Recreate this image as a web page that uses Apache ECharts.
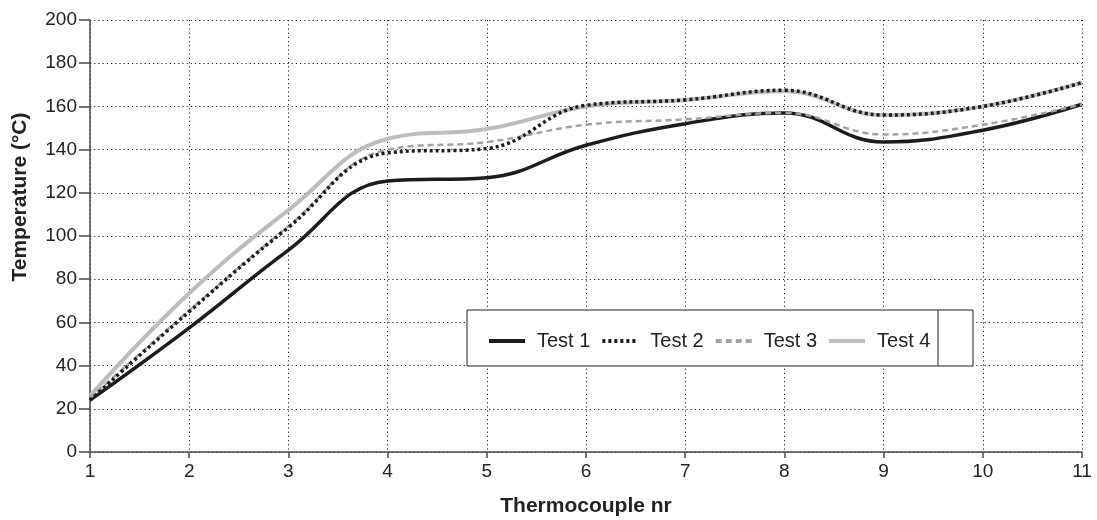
<!DOCTYPE html>
<html>
<head>
<meta charset="utf-8">
<script src="https://cdn.jsdelivr.net/npm/echarts@6/dist/echarts.min.js"></script>
<style>html,body{margin:0;padding:0;background:#fff}#c{width:1097px;height:520px}</style>
</head>
<body>
<div id="c"></div>
<script>
const thermocouples = [1, 2, 3, 4, 5, 6, 7, 8, 9, 10, 11];
const test1 = [24, 57.5, 93.5, 125.5, 127, 142, 152, 157, 143.5, 149, 161];
const test2 = [24, 65, 104, 138.5, 140.5, 160.5, 163, 167.5, 156, 160, 171];
const test3 = [25, 65.5, 104.5, 140, 143.5, 151.5, 154, 157, 147, 151.5, 161];
const test4 = [26, 73.5, 112, 145, 149.5, 160, 163, 167, 156, 160, 171];
const seriesNames = ['Test 1', 'Test 2', 'Test 3', 'Test 4'];
const yTicks = [0, 20, 40, 60, 80, 100, 120, 140, 160, 180, 200];

const pairs = arr => thermocouples.map((x, i) => [x, arr[i]]);
const FONT = '"Liberation Sans", Arial, sans-serif';
const SMOOTH = 0.42;

const chart = echarts.init(document.getElementById('c'), null, {renderer: 'canvas'});
const gridLine = {show: true, lineStyle: {color: '#222', width: 1, type: [1.2, 3]}};
const axisLine = {show: true, lineStyle: {color: '#4a4a4a', width: 1.5}};

chart.setOption({
  animation: false,
  backgroundColor: '#fff',
  grid: {left: 90, right: 15, top: 20, bottom: 68, containLabel: false, outerBoundsMode: 'none'},
  xAxis: {
    type: 'value', min: 1, max: 11, interval: 1,
    name: 'Thermocouple nr', nameLocation: 'middle', nameGap: 44,
    nameTextStyle: {fontFamily: FONT, fontSize: 21, fontWeight: 'bold', color: '#222'},
    axisLine: axisLine,
    axisTick: {show: true, length: 6, lineStyle: {color: '#4a4a4a', width: 1.5}},
    axisLabel: {fontFamily: FONT, fontSize: 19, color: '#222', margin: 10},
    splitLine: gridLine
  },
  yAxis: {
    type: 'value', min: yTicks[0], max: yTicks[yTicks.length - 1], interval: 20,
    name: 'Temperature (°C)', nameLocation: 'middle', nameGap: 59,
    nameTextStyle: {fontFamily: FONT, fontSize: 21, fontWeight: 'bold', color: '#222', padding: [0, 0, 0, 78]},
    axisLine: axisLine,
    axisTick: {show: true, length: 11, lineStyle: {color: '#4a4a4a', width: 1.5}},
    axisLabel: {fontFamily: FONT, fontSize: 19, color: '#222', margin: 13},
    splitLine: gridLine
  },
  graphic: [
    {type: 'rect', shape: {x: 467, y: 310, width: 506, height: 56}, style: {fill: '#fff', stroke: '#222', lineWidth: 1}, z: 90},
    {type: 'line', shape: {x1: 938, y1: 310, x2: 938, y2: 366}, style: {stroke: '#222', lineWidth: 1}, z: 91}
  ],
  legend: {
    data: seriesNames,
    left: 487, top: 331, padding: 0, z: 100,
    itemWidth: 36, itemHeight: 14, itemGap: 10,
    itemStyle: {opacity: 0},
    lineStyle: {width: 4},
    textStyle: {fontFamily: FONT, fontSize: 20, color: '#222', padding: [0, 0, 0, 7]}
  },
  series: [
    {name: seriesNames[3], type: 'line', data: pairs(test4), smooth: SMOOTH, symbol: 'none',
     lineStyle: {color: '#bdbdbd', width: 4}, itemStyle: {color: '#bdbdbd'}, z: 2},
    {name: seriesNames[0], type: 'line', data: pairs(test1), smooth: SMOOTH, symbol: 'none',
     lineStyle: {color: '#1c1c1c', width: 3.5}, itemStyle: {color: '#1c1c1c'}, z: 3},
    {name: seriesNames[2], type: 'line', data: pairs(test3), smooth: SMOOTH, symbol: 'none',
     lineStyle: {color: '#a3a3a3', width: 2.5, type: [6, 4]}, itemStyle: {color: '#a3a3a3'}, z: 4},
    {name: seriesNames[1], type: 'line', data: pairs(test2), smooth: SMOOTH, symbol: 'none',
     lineStyle: {color: '#1c1c1c', width: 3.5, type: [3, 3]}, itemStyle: {color: '#1c1c1c'}, z: 5}
  ]
});
</script>
</body>
</html>
